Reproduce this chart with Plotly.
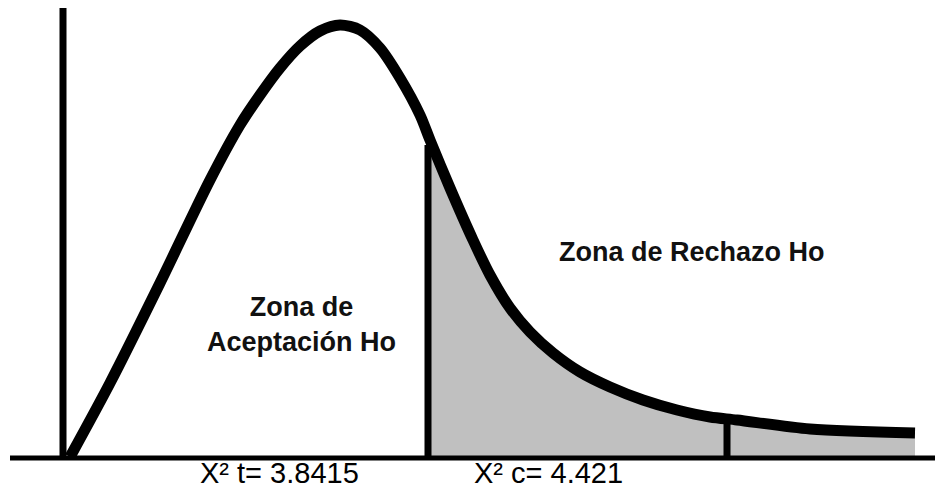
import plotly.graph_objects as go

# Chi-square style density curve (chart units)
curve_x = [0.07, 0.47, 0.97, 1.47, 1.77, 1.97, 2.17, 2.37, 2.57, 2.77, 2.97, 3.17, 3.37,
           3.57, 3.67, 3.87, 4.10, 4.27, 4.47, 4.67, 4.90, 5.17, 5.47, 5.80, 6.14, 6.47,
           6.74, 7.47, 8.52]
curve_y = [0.01, 0.75, 1.75, 2.78, 3.33, 3.63, 3.90, 4.12, 4.27, 4.33, 4.28, 4.10, 3.80,
           3.43, 3.18, 2.70, 2.18, 1.83, 1.50, 1.26, 1.05, 0.86, 0.71, 0.58, 0.48, 0.41,
           0.38, 0.29, 0.25]

# Vertical marker lines (critical / calculated value) and their heights
marker_x = [3.65, 6.64]
marker_h = [3.13, 0.36]

# Axis extents
axis_top = 4.50
base_left, base_right = -0.53, 8.72

labels_bottom = ["X² t= 3.8415", "X² c= 4.421"]
labels_bottom_x = [2.16, 4.85]
zone_accept = "Zona de<br>Aceptación Ho"
zone_reject = "Zona de Rechazo Ho"

FONT = "Liberation Sans, Arial, sans-serif"
GRAY = "#c0c0c0"

fig = go.Figure()

# Shaded rejection area (from first marker to the end of the curve)
fill_x = [marker_x[0]] + [x for x in curve_x if x > marker_x[0]]
fill_y = [marker_h[0] + 0.08] + [y for x, y in zip(curve_x, curve_y) if x > marker_x[0]]
fig.add_trace(go.Scatter(x=fill_x, y=fill_y, mode="lines", fill="tozeroy",
                         fillcolor=GRAY, line=dict(color=GRAY, width=0, shape="spline", smoothing=0.8),
                         hoverinfo="skip", showlegend=False))

# Baseline
fig.add_trace(go.Scatter(x=[base_left, base_right], y=[0, 0], mode="lines",
                         line=dict(color="black", width=5), hoverinfo="skip", showlegend=False))
# Vertical axis
fig.add_trace(go.Scatter(x=[0, 0], y=[0, axis_top], mode="lines",
                         line=dict(color="black", width=7), hoverinfo="skip", showlegend=False))
# Marker verticals
for mx, mh in zip(marker_x, marker_h):
    fig.add_trace(go.Scatter(x=[mx, mx], y=[0, mh], mode="lines",
                             line=dict(color="black", width=7), hoverinfo="skip", showlegend=False))

# Density curve
fig.add_trace(go.Scatter(x=curve_x, y=curve_y, mode="lines",
                         line=dict(color="black", width=11, shape="spline", smoothing=0.8),
                         hoverinfo="skip", showlegend=False))

# Text
fig.add_annotation(x=2.38, y=1.335, text=zone_accept, showarrow=False,
                   font=dict(family=FONT, size=27, color="#111111", weight="bold"),
                   xanchor="center", yanchor="middle", align="center")
fig.add_annotation(x=6.29, y=2.06, text=zone_reject, showarrow=False,
                   font=dict(family=FONT, size=27, color="#111111", weight="bold"),
                   xanchor="center", yanchor="middle")
for lx, lt in zip(labels_bottom_x, labels_bottom):
    fig.add_annotation(x=lx, y=-0.15, text=lt, showarrow=False,
                       font=dict(family=FONT, size=29, color="black"),
                       xanchor="center", yanchor="middle")

fig.update_layout(
    width=935, height=489,
    margin=dict(l=0, r=0, t=0, b=0),
    paper_bgcolor="white", plot_bgcolor="white",
    xaxis=dict(range=[-0.63, 8.72], visible=False, fixedrange=True),
    yaxis=dict(range=[-0.31, 4.58], visible=False, fixedrange=True),
)

fig.write_html("out.html", config={"displayModeBar": False},
               post_script="document.body.style.margin='0';document.body.style.overflow='hidden';")
